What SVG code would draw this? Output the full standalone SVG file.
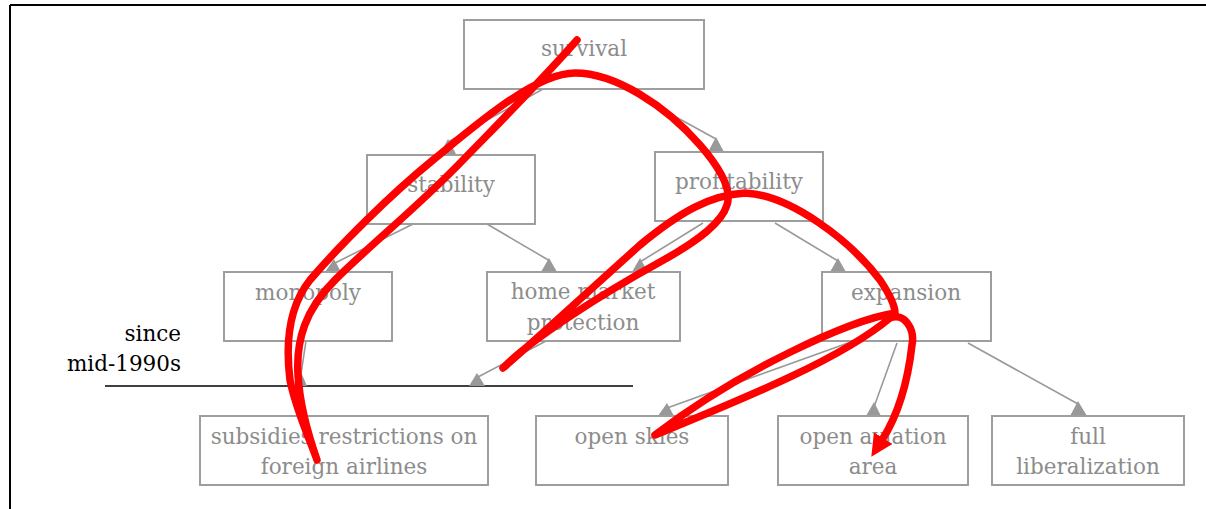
<svg xmlns="http://www.w3.org/2000/svg" width="1206" height="509" viewBox="0 0 1206 509">
<style>
.box{fill:#fff;stroke:#9e9e9e;stroke-width:2}
.lbl{font-family:'DejaVu Serif',serif;font-size:21.5px;fill:#8c8c8c;text-anchor:middle}
.edge{stroke:#999;stroke-width:1.6;fill:none}
.head{fill:#999}
.note{font-family:'DejaVu Serif',serif;font-size:21.5px;fill:#000;text-anchor:end}
.red{stroke:#ff0000;stroke-width:7.5;fill:none;stroke-linecap:round;stroke-linejoin:round}
</style>
<defs>
<marker id="redhead" viewBox="0 0 10 10" refX="1" refY="5" markerWidth="22" markerHeight="22" markerUnits="userSpaceOnUse" orient="auto">
<path d="M0,0 L10,5 L0,10 z" fill="#ff0000"/>
</marker>
</defs>
<rect width="1206" height="509" fill="#fff"/>
<g id="frame" stroke="#000" stroke-width="2" fill="none">
<line x1="10" y1="5" x2="1206" y2="5"/>
<line x1="10" y1="5" x2="10" y2="509"/>
</g>
<g id="cutoff">
<line x1="105" y1="386" x2="633" y2="386" stroke="#000" stroke-width="1.6"/>
<text class="note" x="181" y="341">since</text>
<text class="note" x="181" y="371">mid-1990s</text>
</g>
<g id="connectors">
<line class="edge" x1="543" y1="89" x2="448" y2="142"/>
<polygon class="head" points="448,139 440,154 456,154"/>
<line class="edge" x1="625" y1="89" x2="716" y2="139"/>
<polygon class="head" points="716,137 708,152 724,152"/>
<line class="edge" x1="413" y1="224" x2="333" y2="264"/>
<polygon class="head" points="334,259 325,272 341,272"/>
<line class="edge" x1="487" y1="224" x2="550" y2="261"/>
<polygon class="head" points="549,258 541,272 557,272"/>
<line class="edge" x1="703" y1="223" x2="640" y2="262"/>
<polygon class="head" points="640,258 632,272 648,272"/>
<line class="edge" x1="775" y1="223" x2="838" y2="261"/>
<polygon class="head" points="838,258 830,272 846,272"/>
<line class="edge" x1="306" y1="341" x2="301" y2="374"/>
<polygon class="head" points="301,372 295,386 307,386"/>
<line class="edge" x1="546" y1="341" x2="478" y2="377"/>
<polygon class="head" points="477,373 469,386 485,386"/>
<line class="edge" x1="848" y1="343" x2="667" y2="408"/>
<polygon class="head" points="667,403 658,416 674,416"/>
<line class="edge" x1="897" y1="343" x2="874" y2="407"/>
<polygon class="head" points="874,402 866,416 881,416"/>
<line class="edge" x1="968" y1="343" x2="1078" y2="404"/>
<polygon class="head" points="1078,401 1070,416 1087,416"/>
</g>
<g id="n-survival"><rect class="box" x="464" y="20" width="240" height="69"/><text class="lbl" x="584" y="56">survival</text></g>
<g id="n-stability"><rect class="box" x="367" y="155" width="168" height="69"/><text class="lbl" x="451" y="192">stability</text></g>
<g id="n-profitability"><rect class="box" x="655" y="152" width="168" height="69"/><text class="lbl" x="739" y="189">profitability</text></g>
<g id="n-monopoly"><rect class="box" x="224" y="272" width="168" height="69"/><text class="lbl" x="308" y="300">monopoly</text></g>
<g id="n-home"><rect class="box" x="487" y="272" width="193" height="69"/><text class="lbl" x="583" y="299">home market</text><text class="lbl" x="583" y="330">protection</text></g>
<g id="n-expansion"><rect class="box" x="822" y="272" width="169" height="69"/><text class="lbl" x="906" y="300">expansion</text></g>
<g id="n-subsidies"><rect class="box" x="200" y="416" width="288" height="69"/><text class="lbl" x="344" y="444">subsidies restrictions on</text><text class="lbl" x="344" y="474">foreign airlines</text></g>
<g id="n-openskies"><rect class="box" x="536" y="416" width="192" height="69"/><text class="lbl" x="632" y="444">open skies</text></g>
<g id="n-openaviation"><rect class="box" x="778" y="416" width="190" height="69"/><text class="lbl" x="873" y="444">open aviation</text><text class="lbl" x="873" y="474">area</text></g>
<g id="n-full"><rect class="box" x="992" y="416" width="192" height="69"/><text class="lbl" x="1088" y="444">full</text><text class="lbl" x="1088" y="474">liberalization</text></g>
<g id="annotation">
<path class="red" marker-end="url(#redhead)" d="M577,40 C540,82 500,122 463,160 C420,205 370,245 335,280 C305,310 296,340 298,375 C300,410 310,440 317,460 C310,440 296,410 290,380 C285,340 290,305 310,280 C340,245 390,195 433,160 C476,125 535,73 575,73 C615,73 665,105 700,145 C720,168 732,190 727,205 C722,222 700,240 660,262 C600,295 530,340 503,368 C530,345 590,290 640,245 C680,212 710,195 745,193 C790,195 850,240 880,280 C890,295 895,305 895,313 C850,320 740,370 655,435 C740,400 840,360 890,318 C905,312 915,330 912,345 C908,380 898,415 882,440"/>
</g>
</svg>
